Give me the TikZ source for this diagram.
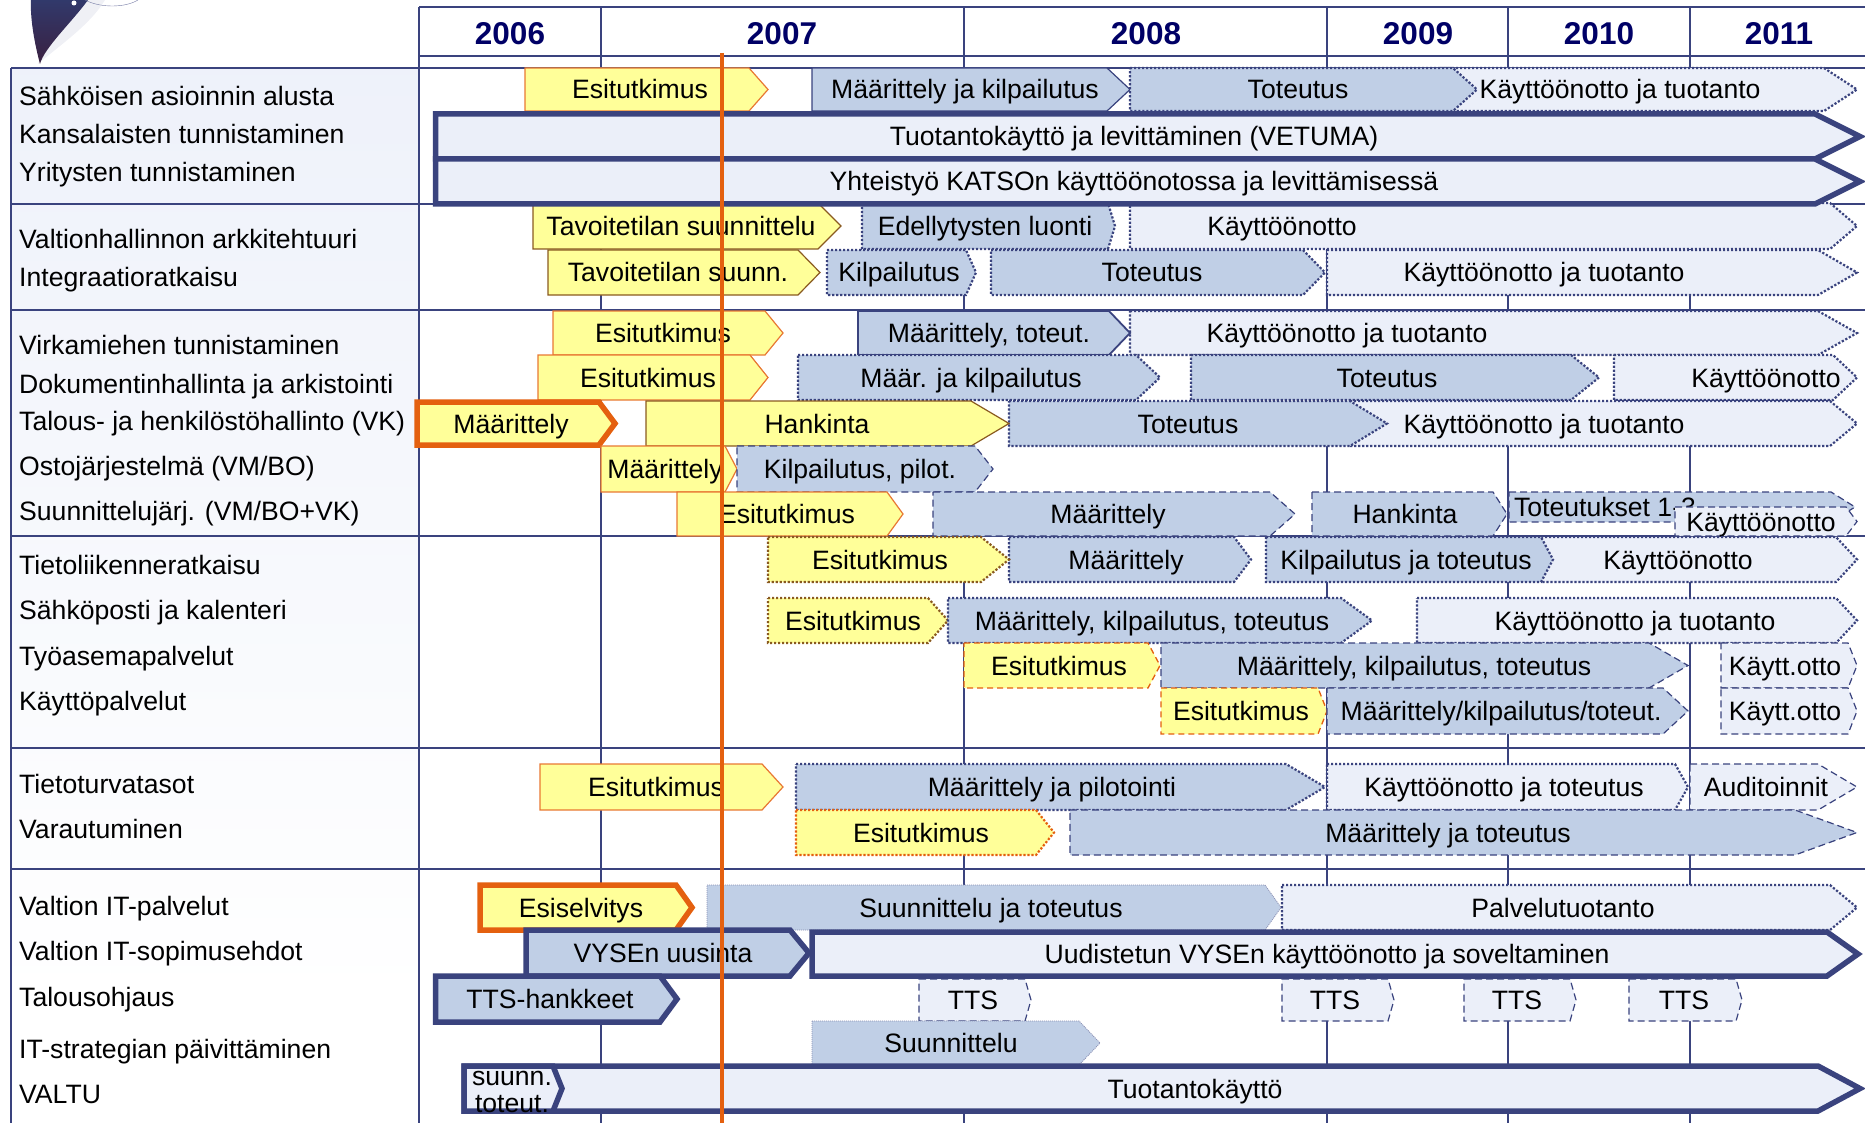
\documentclass[tikz,border=0pt]{standalone}
\usepackage{fontspec}
\setmainfont{Liberation Sans}
\definecolor{gridnavy}{HTML}{3A437E}
\definecolor{yearnavy}{HTML}{000066}
\definecolor{markorange}{HTML}{E4600F}
\definecolor{baryellow}{HTML}{FFFF99}
\definecolor{barblue}{HTML}{C0CFE6}
\definecolor{barlight}{HTML}{EBEFF9}
\definecolor{barbrown}{HTML}{8A5A20}
\definecolor{logoplum}{HTML}{3A2040}
\tikzset{
x=1pt, y=-1pt,
yelsolid/.style={fill=baryellow, draw=markorange!85, line width=1.2},
yelbrown/.style={fill=baryellow, draw=barbrown, line width=1.2},
yelthick/.style={fill=baryellow, draw=markorange, line width=5.5},
yeldot/.style={fill=baryellow, draw=barbrown, line width=2.2, dash pattern=on 2.2 off 1.8},
yeldotor/.style={fill=baryellow, draw=markorange, line width=2.2, dash pattern=on 2.2 off 1.8},
yeldash/.style={fill=baryellow, draw=markorange, line width=1.3, dash pattern=on 6 off 4},
blusolid/.style={fill=barblue, draw=gridnavy, line width=1.2},
bluplain/.style={fill=barblue, draw=gridnavy, line width=1.8},
bludot/.style={fill=barblue, draw=gridnavy, line width=2.2, dash pattern=on 2.2 off 1.8},
blufine/.style={fill=barblue, draw=gridnavy!60, line width=.8, dash pattern=on 1 off 1},
bludash/.style={fill=barblue, draw=gridnavy, line width=1.2, dash pattern=on 7 off 4},
bluthick/.style={fill=barblue, draw=gridnavy, line width=5.5},
ligdot/.style={fill=barlight, draw=gridnavy, line width=2.2, dash pattern=on 2.2 off 1.8},
ligdash/.style={fill=barlight, draw=gridnavy, line width=1.2, dash pattern=on 7 off 4},
ligthick/.style={fill=barlight, draw=gridnavy, line width=5.5},
bartext/.style={font=\fontsize{26.6}{28}\selectfont, text=black, inner sep=0pt, text height=25, text depth=6},
rowlabel/.style={bartext, anchor=west},
yearlabel/.style={font=\fontsize{31.5}{33}\bfseries, text=yearnavy, inner sep=0pt}
}

\begin{document}
\begin{tikzpicture}
\useasboundingbox (0,0) rectangle (1865,1123);
\clip (0,0) rectangle (1865,1123);
\shade [top color=barlight!85, bottom color=white] (11,68) rectangle (419,1000);
\fill [white] (11,1000) rectangle (419,1123);
\fill [gridnavy!8] (38,64) .. controls (60,45) and (90,25) .. (105,0) -- (60,0) -- cycle;
\shade [top color=gridnavy!85!black, bottom color=logoplum] (31,0) .. controls (30,20) and (35,45) .. (40,64) .. controls (44,48) and (72,22) .. (88,0) -- cycle;
\draw [gridnavy!70] (85,0) .. controls (100,8) and (125,8) .. (138,0);
\fill [white] (74,3) circle [radius=2.5];
\foreach \x in {419,601,964,1327,1508,1690}
{
\draw [gridnavy, line width=1.5] (\x,7) -- (\x,1123);
}
\foreach \y in {7,56,68}
{
\draw [gridnavy, line width=1.5] (419,\y) -- (1865,\y);
}
\foreach \y in {68,204,310,536,748,869}
{
\draw [gridnavy, line width=1.5] (11,\y) -- (1865,\y);
}
\draw [gridnavy, line width=1.5] (11,68) -- (11,1123);
\foreach \xt/\tx [count=\i] in {510/2006,782/2007,1146/2008,1418/2009,1599/2010,1779/2011}
{
\node (year\i) [yearlabel] at (\xt,34) {\tx};
}
\foreach \yc/\tx [count=\i] in {
96/Sähköisen asioinnin alusta,
134/Kansalaisten tunnistaminen,
172/Yritysten tunnistaminen,
239/Valtionhallinnon arkkitehtuuri,
277/Integraatioratkaisu,
345/Virkamiehen tunnistaminen,
384/Dokumentinhallinta ja arkistointi,
421/Talous- ja henkilöstöhallinto (VK),
466/{Ostojärjestelmä (VM/BO)},
511/{Suunnittelujärj. (VM/BO+VK)},
565/Tietoliikenneratkaisu,
610/Sähköposti ja kalenteri,
656/Työasemapalvelut,
701/Käyttöpalvelut,
784/Tietoturvatasot,
829/Varautuminen,
906/Valtion IT-palvelut,
951/Valtion IT-sopimusehdot,
997/Talousohjaus,
1049/IT-strategian päivittäminen,
1094/VALTU}
{
\node (row\i) [rowlabel] at (19,\yc) {\tx};
}
\foreach \sty/\xa/\xh/\xb/\ya/\yb/\xt/\tx [count=\i] in {
yelsolid/525/749/768/68/111/640/Esitutkimus,
blusolid/812/1107/1130/68/111/965/Määrittely ja kilpailutus,
ligdot/1440/1824/1857/68/111/1620/Käyttöönotto ja tuotanto,
bludot/1130/1453/1477/68/111/1298/Toteutus,
yelbrown/533/818/841/203/249/681/Tavoitetilan suunnittelu,
ligdot/1130/1830/1857/203/249/1282/Käyttöönotto,
bludot/862/1108/1115/203/249/985/Edellytysten luonti,
ligthick/435.5/1815/1860/114/159/1134/Tuotantokäyttö ja levittäminen (VETUMA),
ligthick/435.5/1815/1860/159/204/1134/Yhteistyö KATSOn käyttöönotossa ja levittämisessä,
yelbrown/548/798/820/250/295/678/Tavoitetilan suunn.,
bludot/827/966/976/250/295/899/Kilpailutus,
ligdot/1327/1818/1857/250/295/1544/Käyttöönotto ja tuotanto,
bludot/991/1303/1325/250/295/1152/Toteutus,
yelsolid/553/765/783/311/355/663/Esitutkimus,
ligdot/1130/1818/1857/311/355/1347/Käyttöönotto ja tuotanto,
bluplain/858/1109/1130/311/355/989/{Määrittely, toteut.},
yelsolid/538/750/768/355/400/648/Esitutkimus,
bludot/798/1136/1160/355/400/971/Määr. ja kilpailutus,
bludot/1191/1571/1599/355/400/1387/Toteutus,
ligdot/1614/1833/1857/355/400/1766/Käyttöönotto,
ligdot/1350/1830/1857/401/446/1544/Käyttöönotto ja tuotanto,
bludot/1009/1350/1387/401/446/1188/Toteutus,
yelbrown/646/971/1009/401/446/817/Hankinta,
yelthick/417/599/615/402/445/511/Määrittely,
yelsolid/601/725/737/446/492/665/Määrittely,
bludash/737/975/993/446/492/860/{Kilpailutus, pilot.},
yelsolid/677/887/903/492/536/787/Esitutkimus,
bludash/933/1270/1295/492/536/1108/Määrittely,
bludash/1312/1493/1507/492/536/1405/Hankinta,
bludash/1509/1831/1855/492/522/1605/Toteutukset 1-3,
ligdash/1675/1846/1857/507/536/1761/Käyttöönotto,
ligdot/1541/1836/1857/537/582/1678/Käyttöönotto,
bludot/1266/1541/1553/537/582/1406/Kilpailutus ja toteutus,
bludot/1009/1234/1251/537/582/1126/Määrittely,
yeldot/768/981/1009/537/582/880/Esitutkimus,
yeldot/768/928/948/598/643/853/Esitutkimus,
bludot/948/1341/1372/598/643/1152/{Määrittely, kilpailutus, toteutus},
ligdot/1417/1836/1857/598/643/1635/Käyttöönotto ja tuotanto,
yeldash/964/1148/1160/643/688/1059/Esitutkimus,
bludash/1161/1649/1688/643/688/1414/{Määrittely, kilpailutus, toteutus},
ligdash/1721/1848/1857/643/688/1785/Käytt.otto,
yeldash/1161/1318/1327/688/734/1241/Esitutkimus,
bludash/1327/1663/1688/688/734/1501/{Määrittely/kilpailutus/toteut.},
ligdash/1721/1848/1857/688/734/1785/Käytt.otto,
yelsolid/540/762/783/764/810/656/Esitutkimus,
bludot/796/1286/1325/764/810/1052/Määrittely ja pilotointi,
ligdash/1690/1818/1857/764/810/1766/Auditoinnit,
ligdot/1327/1675/1688/764/810/1504/Käyttöönotto ja toteutus,
yeldotor/796/1036/1054/810/855/921/Esitutkimus,
bludash/1070/1795/1857/810/855/1448/Määrittely ja toteutus,
blufine/707/1265/1281/885/930/991/Suunnittelu ja toteutus,
ligdot/1282/1830/1857/885/930/1563/Palvelutuotanto,
yelthick/480/676/692/885/930/581/Esiselvitys,
bluthick/526/790/809/930/976/663/VYSEn uusinta,
ligthick/812/1827/1858/932/976/1327/Uudistetun VYSEn käyttöönotto ja soveltaminen,
bluthick/435.5/660/677/976/1022/550/TTS-hankkeet,
ligdash/919/1025/1031/979/1021/973/TTS,
ligdash/1282/1388/1394/979/1021/1335/TTS,
ligdash/1464/1570/1576/979/1021/1517/TTS,
ligdash/1629/1736/1742/979/1021/1684/TTS,
blufine/812/1079/1100/1021/1065/951/Suunnittelu,
ligthick/464/1818/1860/1066/1111/1195/Tuotantokäyttö}
{
\draw [\sty] (\xa,\ya) -- (\xh,\ya) -- (\xb,{(\ya+\yb)/2}) -- (\xh,\yb) -- (\xa,\yb) -- cycle;
\node (bar\i) [bartext] at (\xt,{(\ya+\yb)/2}) {\tx};
}
\draw [ligthick] (464,1066) -- (553,1066) -- (562,1088.5) -- (553,1111) -- (464,1111) -- cycle;
\node (suunn) [bartext] at (512,1076) {suunn.};
\node (toteut) [bartext] at (512,1103) {toteut.};
\draw [markorange, line width=3.5] (722,53) -- (722,1123);
\end{tikzpicture}
\end{document}
